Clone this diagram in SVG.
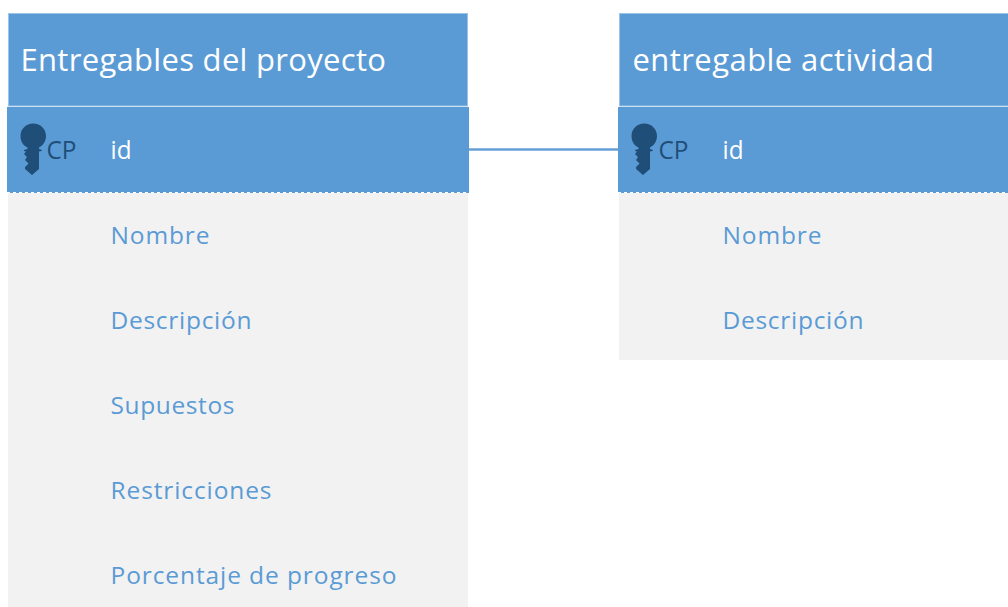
<svg xmlns="http://www.w3.org/2000/svg" width="1008" height="607" viewBox="0 0 1008 607">
<defs>
<style>
text{font-family:"Open Sans","Noto Sans","Liberation Sans",sans-serif}
.head{fill:#5b9bd5;stroke:#9dc3e6;stroke-width:1}
.pk{fill:#5b9bd5}
.body{fill:#f2f2f2}
.title{fill:#fff;font-size:31px}
.cp{fill:#1f4e79;font-size:25px}
.id{fill:#fff;font-size:25px}
.attr{fill:#5b9bd5;font-size:24.500px}
.dash{stroke:#fff;stroke-width:1;stroke-dasharray:3 3;fill:none}
.key{fill:#1f4e79}
.conn{stroke:#659fd6;stroke-width:2.500;fill:none}
</style>
<path id="keyIcon" d="M12.800 0C20 0 25.500 5.500 25.500 12.500C25.500 18 22 22.500 18.500 24L18.500 25.500L21.500 26.500L21 27.500L18.500 28L18.500 45.500L11.500 51.500L4.500 45.500L4.500 43.500L8 40L4.500 36.500L6.500 33.500L3.500 30.500L5.500 28L3.500 27.500L3.500 26.500L7 25.500L7 24C3 22.500 0 18 0 12.500C0 5.500 5.500 0 12.800 0Z"/>
</defs>
<g id="connectors"><line class="conn" x1="468" y1="149.500" x2="619" y2="149.500"/></g>
<g id="entregables-del-proyecto">
<rect class="body" x="8" y="192" width="460" height="415"/>
<rect class="head" x="8.500" y="13.500" width="459" height="92.500"/>
<text class="title" x="20.500" y="70.500" textLength="365.500" lengthAdjust="spacing">Entregables del proyecto</text>
<rect class="pk" x="7" y="107" width="462" height="86"/>
<line class="dash" x1="7" y1="192.500" x2="469" y2="192.500"/>
<use href="#keyIcon" class="key" x="20.500" y="123.500"/>
<text class="cp" x="46.500" y="158.500" textLength="30" lengthAdjust="spacingAndGlyphs">CP</text>
<text class="id" x="110.500" y="158.500" textLength="21" lengthAdjust="spacingAndGlyphs">id</text>
<text class="attr" x="110.500" y="243.500" textLength="99">Nombre</text>
<text class="attr" x="110.500" y="328.500" textLength="141">Descripción</text>
<text class="attr" x="110.500" y="413.500" textLength="124">Supuestos</text>
<text class="attr" x="110.500" y="498.500" textLength="161">Restricciones</text>
<text class="attr" x="110.500" y="583.500" textLength="286">Porcentaje de progreso</text>
</g>
<g id="entregable-actividad">
<rect class="body" x="619" y="192" width="389" height="168"/>
<rect class="head" x="619.500" y="13.500" width="389" height="92.500"/>
<text class="title" x="632.500" y="70.500" textLength="301.500" lengthAdjust="spacing">entregable actividad</text>
<rect class="pk" x="618" y="107" width="390" height="86"/>
<line class="dash" x1="618" y1="192.500" x2="1008" y2="192.500"/>
<use href="#keyIcon" class="key" x="631.500" y="123.500"/>
<text class="cp" x="658.500" y="158.500" textLength="30" lengthAdjust="spacingAndGlyphs">CP</text>
<text class="id" x="722.500" y="158.500" textLength="21" lengthAdjust="spacingAndGlyphs">id</text>
<text class="attr" x="722.500" y="243.500" textLength="99">Nombre</text>
<text class="attr" x="722.500" y="328.500" textLength="141">Descripción</text>
</g>
</svg>
